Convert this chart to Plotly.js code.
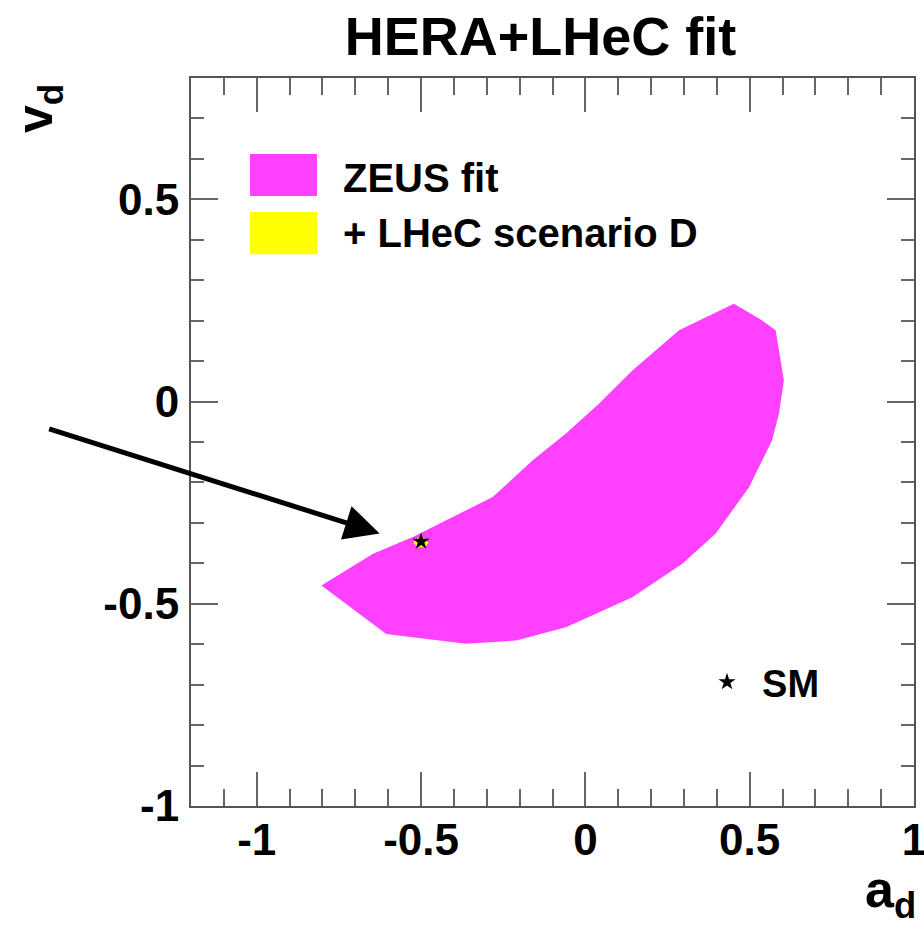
<!DOCTYPE html>
<html>
<head>
<meta charset="utf-8">
<script src="https://cdn.plot.ly/plotly-3.0.1.min.js"></script>
<style>html,body{margin:0;padding:0;background:#fff;}#chart{width:924px;height:931px;}</style>
</head>
<body>
<div id="chart"></div>
<script>
// ZEUS fit contour (a_d, v_d)
var ad_zeus = [-0.803, -0.606, -0.363, -0.211, -0.059, 0.143, 0.295, 0.396, 0.498, 0.568, 0.589, 0.604, 0.579, 0.537, 0.452, 0.285, 0.143, 0.042, -0.059, -0.161, -0.282, -0.444, -0.525, -0.646, -0.803];
var vd_zeus = [-0.455, -0.575, -0.599, -0.591, -0.558, -0.484, -0.401, -0.327, -0.212, -0.096, -0.030, 0.052, 0.176, 0.201, 0.242, 0.176, 0.077, -0.005, -0.079, -0.146, -0.236, -0.302, -0.335, -0.376, -0.455];
// + LHeC scenario D contour (tiny, around SM)
var ad_lhec = [-0.524, -0.512, -0.490, -0.477, -0.488, -0.510, -0.524];
var vd_lhec = [-0.349, -0.338, -0.338, -0.349, -0.360, -0.360, -0.349];
// Standard Model point
var ad_sm = [-0.5];
var vd_sm = [-0.346];
// axis ticks
var xTicks = [-1, -0.5, 0, 0.5, 1];
var xTickLabels = ['-1', '-0.5', '0', '0.5', '1'];
var yTicks = [-1, -0.5, 0, 0.5];
var yTickLabels = ['-1', '-0.5', '0', '0.5'];
var xRange = [-1.2, 1];
var yRange = [-1, 0.8];
var minorStep = 0.1;

var FONT = 'Liberation Sans, Arial, Helvetica, sans-serif';
var MAGENTA = '#ff40ff';
var YELLOW = '#ffff00';

var traces = [
  {x: ad_zeus, y: vd_zeus, type: 'scatter', mode: 'lines', fill: 'toself',
   fillcolor: MAGENTA, line: {width: 0, color: MAGENTA}, name: 'ZEUS fit', showlegend: false, hoverinfo: 'skip'},
  {x: ad_lhec, y: vd_lhec, type: 'scatter', mode: 'lines', fill: 'toself',
   fillcolor: YELLOW, line: {width: 0, color: YELLOW}, name: '+ LHeC scenario D', showlegend: false, hoverinfo: 'skip'},
  {x: ad_sm, y: vd_sm, type: 'scatter', mode: 'markers', name: 'SM',
   marker: {symbol: 'star', size: 13, color: '#000'}, showlegend: true},
  // carrier for the minor-tick overlay axes
  {x: [null], y: [null], xaxis: 'x2', yaxis: 'y2', type: 'scatter', mode: 'markers', showlegend: false, hoverinfo: 'skip'}
];

var axisCommon = {
  showgrid: false, zeroline: false, showline: true, linecolor: '#555', linewidth: 2,
  mirror: 'ticks', ticks: 'inside', tickcolor: '#666', tickwidth: 2,
  tickfont: {family: FONT, size: 44, color: '#000', weight: 'bold'}
};
var minorCommon = {
  showgrid: false, zeroline: false, showline: false, showticklabels: false,
  mirror: 'ticks', ticks: 'inside', tickcolor: '#666', tickwidth: 2,
  tickmode: 'linear', tick0: 0, dtick: minorStep
};

var layout = {
  width: 924, height: 931,
  paper_bgcolor: '#fff', plot_bgcolor: '#fff',
  margin: {l: 191, r: 10, t: 78, b: 125},
  title: {text: 'HERA+LHeC fit', font: {family: FONT, size: 54, color: '#000', weight: 'bold'},
          x: 0.585, xanchor: 'center', xref: 'container', y: 0.961, yanchor: 'middle', yref: 'container'},
  xaxis: Object.assign({}, axisCommon, {
    range: xRange, tickmode: 'array', tickvals: xTicks, ticktext: xTickLabels,
    ticklen: 34, ticklabelstandoff: -6, ticklabeloverflow: 'allow'
  }),
  yaxis: Object.assign({}, axisCommon, {
    range: yRange, tickmode: 'array', tickvals: yTicks, ticktext: yTickLabels,
    ticklen: 27, ticklabelstandoff: 1, ticklabeloverflow: 'allow'
  }),
  xaxis2: Object.assign({}, minorCommon, {overlaying: 'x', anchor: 'y', range: xRange, ticklen: 17}),
  yaxis2: Object.assign({}, minorCommon, {overlaying: 'y', anchor: 'x', range: yRange, ticklen: 13}),
  showlegend: true,
  legend: {x: 0.693, y: 0.17, xanchor: 'left', yanchor: 'middle', bgcolor: 'rgba(0,0,0,0)',
           font: {family: FONT, size: 38, color: '#000', weight: 'bold'}, itemwidth: 60},
  shapes: [
    {type: 'rect', xref: 'paper', yref: 'paper', x0: 0.0816, x1: 0.1743, y0: 0.838, y1: 0.8956,
     fillcolor: MAGENTA, line: {width: 0}},
    {type: 'rect', xref: 'paper', yref: 'paper', x0: 0.0816, x1: 0.1743, y0: 0.758, y1: 0.816,
     fillcolor: YELLOW, line: {width: 0}}
  ],
  annotations: [
    {xref: 'paper', yref: 'paper', x: 0.2075, y: 0.8626, xanchor: 'left', yanchor: 'middle', showarrow: false,
     text: 'ZEUS fit', font: {family: FONT, size: 40, color: '#000', weight: 'bold'}},
    {xref: 'paper', yref: 'paper', x: 0.2075, y: 0.787, xanchor: 'left', yanchor: 'middle', showarrow: false,
     text: '+ LHeC scenario D', font: {family: FONT, size: 40, color: '#000', weight: 'bold'}},
    {xref: 'paper', yref: 'paper', x: 1.005, y: -0.12, xanchor: 'right', yanchor: 'middle', showarrow: false,
     text: 'a<sub>d</sub>', font: {family: FONT, size: 52, color: '#000', weight: 'bold'}},
    {xref: 'paper', yref: 'paper', x: -0.21, y: 0.994, xanchor: 'center', yanchor: 'top', showarrow: false,
     textangle: -90, text: 'v<sub>d</sub>', font: {family: FONT, size: 50, color: '#000', weight: 'bold'}},
    {xref: 'x', yref: 'y', x: -0.626, y: -0.326, ax: -332, ay: -105, showarrow: true, text: '',
     arrowhead: 2, arrowsize: 1.4, arrowwidth: 5, arrowcolor: '#000'}
  ]
};

Plotly.newPlot('chart', traces, layout, {displayModeBar: false, staticPlot: true});
</script>
</body>
</html>
